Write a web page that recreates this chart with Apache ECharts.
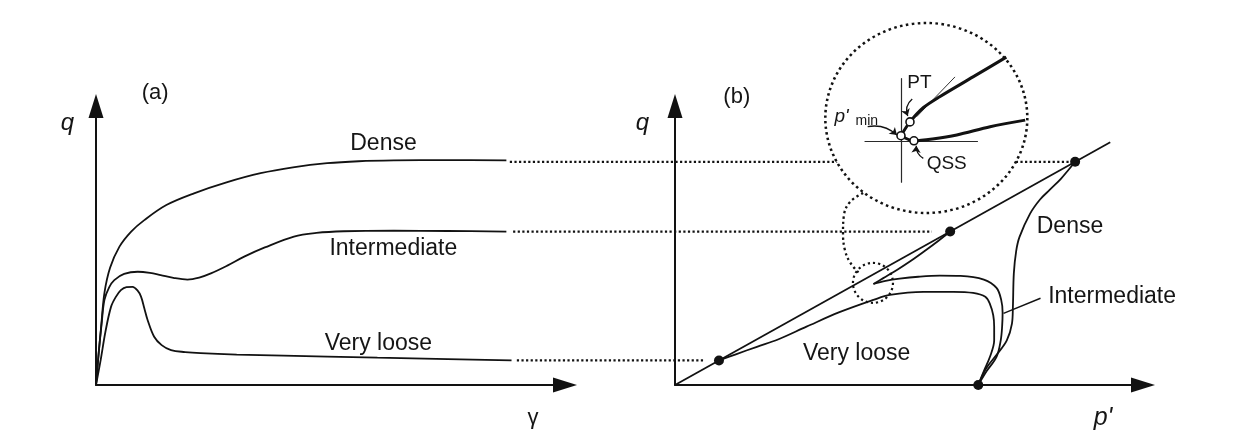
<!DOCTYPE html>
<html>
<head>
<meta charset="utf-8">
<title>Undrained response of sand: stress–strain and stress paths</title>
<script src="https://cdn.jsdelivr.net/npm/echarts@6.0.0/dist/echarts.min.js"></script>
<style>
  html, body { margin: 0; padding: 0; background: #ffffff; }
  #chart { width: 1239px; height: 438px; }
</style>
</head>
<body>
<div id="chart"></div>
<script>
// ---------------------------------------------------------------
// Data
// ---------------------------------------------------------------
const densityStates = ['Dense', 'Intermediate', 'Very loose'];

// (a) deviator stress q against shear strain γ  (pairs: [γ, q])
const qGammaDense = [[0,0],[0.5,10],[1.1,21],[1.8,33],[3,42],[5,49.6],[7.5,55],[10.3,59.1],[15,64.5],[20.9,68.7],[28,72.7],[35.1,75.9],[42,78],[49.3,79.5],[56,80.2],[63.5,80.5],[75,80.6],[87.5,80.5]];
const qGammaIntermediate = [[0,0],[0.6,12],[1.2,22],[1.8,30.5],[2.8,35],[3.9,37.6],[6,39.8],[8.9,40.6],[11.5,40.2],[13.8,39.4],[16.5,38.4],[19.5,37.8],[22,38.5],[24.5,40],[28,42.8],[31.6,46],[36,49.3],[42.2,53.2],[47,54.5],[52.8,55.1],[63.5,55.3],[75,55.2],[87.5,55]];
const qGammaVeryLoose = [[0,0],[1,9],[2,19],[3.2,28],[4.2,31.5],[5.3,34],[6.5,35.1],[7.8,35.2],[8.8,34],[9.6,31.7],[10.3,27.5],[11,23.3],[12.4,17.3],[14,14.3],[16,12.5],[19,11.8],[22.3,11.4],[30,10.9],[40,10.5],[49.3,10.2],[60,9.8],[75,9.3],[88.6,8.8]];

// (b) effective stress paths q against p'  (pairs: [p', q])
const stressPathDense = [[64.8,0],[66.5,6],[68.8,11],[70.9,16],[72,22],[72.2,28],[72.4,40],[72.9,48],[73.6,53],[75.9,61.5],[78,66.5],[80.1,70],[82.5,74],[85.5,80]];
const stressPathIntermediateIn = [[64.8,0],[66.6,5],[68.7,10.1],[69.6,16],[69.9,21],[70,26],[69.7,30.5],[68.7,34.8],[66,37.8],[61,39.1],[56.6,39.2],[52,38.8],[48,38.1],[45,37.3],[42.4,36.2]];
const stressPathIntermediateOut = [[42.4,36.2],[44.5,38.3],[47.5,41.3],[50.5,44.6],[53.5,48.2],[56.3,51.7],[58.8,55]];
const stressPathVeryLoose = [[64.8,0],[66,5],[67.3,10.1],[68.2,16],[68.2,20.9],[68,25],[67.3,29],[66.3,31.6],[63.7,33],[59.5,33.4],[53.1,33.4],[45.9,32.3],[42.4,30.5],[35,26],[28.1,20.9],[22,16.3],[17.5,13.7],[13,11],[9.4,8.8]];
const criticalStateLine = [[0,0],[93,87]];
const steadyStatePoints = [[85.5,80],[58.8,55],[9.4,8.8]];
const initialState = [[64.8,0]];

// dotted links from the strain curves' plateaus to the steady states
// (drawn on the p' scale carried leftwards under panel (a))
const plateauLinkDense = [[-35.3,80],[85.5,80]];
const plateauLinkIntermediate = [[-34.6,55],[54.9,55]];
const plateauLinkVeryLoose = [[-33.8,8.8],[6.4,8.8]];
const linkScaleMin = -37.4;

// the zoomed region and its call-out
const loopTip = [[42.3,36.6]];
const calloutCentre = [[53.7,95.7]];
const calloutLink = [[40.2,68.8],[37.4,65.6],[36.1,60.9],[35.9,54.5],[36.3,48.4],[37.4,44],[39.2,40.3]];
const intermediatePointer = [[70.2,25.7],[78.1,31.1]];

// call-out detail, in local units centred on the p'min crossing
const detailExtentX = [-8.44, 14.11];
const detailExtentY = [-7.92, 13.19];
const detailCrossX = [-4, 8.5];
const detailCrossY = [-4.5, 7];
const detailUpper = [[0,0.67],[1.0,2.2],[2.5,3.8],[4.3,5],[8,7.2],[11.7,9.4]];
const detailLower = [[0,0.67],[1.44,0.1],[3.5,0.3],[6.2,0.75],[9.9,1.67],[13.8,2.4]];
const detailTangent = [[1.74,2.78],[6,7.2]];
const detailMarkers = [[0,0.67],[1.0,2.2],[1.44,0.1]];   // p'min, PT, QSS
const detailArrows = [
  [[1.25,4.75],[0.75,2.85], -0.35],
  [[-3.7,1.67],[-0.45,0.74], 0.25],
  [[2.48,-1.85],[1.7,-0.45], 0.3]
];

// annotation positions
const labelsA = [[61.3,86.6],[63.4,49],[60.2,14.9]];
const labelsB = [[84.4,56.7],[93.4,31.5],[38.8,11.4]];
const panelTags = [['(a)',12.6,104.7],['(b)',13.2,103.2]];
const detailLabels = [['PT',2.04,6.5],['QSS',5.08,-2.48]];

// ---------------------------------------------------------------
// Styling helpers
// ---------------------------------------------------------------
const INK = '#121212';
const TEXT = '#151515';
const FONT = '"Liberation Sans", Arial, Helvetica, sans-serif';

function mainAxis(gridIndex, extra) {
  return Object.assign({
    type: 'value', gridIndex, min: 0, max: 100,
    axisLine: { show: true, onZero: false, symbol: ['none', 'triangle'], symbolSize: [15, 24],
                lineStyle: { color: INK, width: 2 } },
    axisTick: { show: false }, axisLabel: { show: false }, splitLine: { show: false }
  }, extra);
}

function hiddenAxis(gridIndex, range) {
  return { type: 'value', gridIndex, min: range[0], max: range[1], show: false,
           axisLine: { show: false }, axisTick: { show: false }, axisLabel: { show: false }, splitLine: { show: false } };
}

function curve(data, idx, extra) {
  return Object.assign({
    type: 'line', data, xAxisIndex: idx, yAxisIndex: idx,
    symbol: 'none', smooth: 0.35, silent: true, animation: false,
    lineStyle: { color: INK, width: 1.8 }, z: 2
  }, extra || {});
}

function dotted(data, idx, extra) {
  return Object.assign(curve(data, idx), {
    smooth: false, clip: false, z: 1,
    lineStyle: { color: INK, width: 2.2, type: [2.2, 2.4] }
  }, extra || {});
}

function texts(items, idx, fontSize, extra) {
  return {
    type: 'scatter', xAxisIndex: idx, yAxisIndex: idx, silent: true, animation: false,
    clip: false, z: 8, symbolSize: 1, itemStyle: { color: 'rgba(0,0,0,0)', opacity: 1 },
    data: items.map(d => ({ name: d[0], value: [d[1], d[2]] })),
    label: Object.assign({ show: true, position: 'inside', formatter: '{b}', color: TEXT,
                           fontSize, fontFamily: FONT }, extra || {})
  };
}

const crossAxis = (range) => ({
  type: 'value', gridIndex: 2, min: range[0], max: range[1], z: 6,
  axisLine: { show: true, onZero: true, lineStyle: { color: '#2a2a2a', width: 1.2 } },
  axisTick: { show: false }, axisLabel: { show: false }, splitLine: { show: false }
});

// ---------------------------------------------------------------
// Chart
// ---------------------------------------------------------------
const chart = echarts.init(document.getElementById('chart'));

chart.setOption({
  animation: false,
  backgroundColor: '#ffffff',
  grid: [
    { left: 96, top: 106, width: 469, height: 279 },       // (a)
    { left: 675, top: 106, width: 468, height: 279 },      // (b)
    { left: 865, top: 78.7, width: 112.5, height: 103.5 }, // call-out cross
    { left: 500, top: 106, width: 643, height: 279 },      // links between panels
    { left: 825, top: 23, width: 203, height: 190 }        // call-out detail
  ],
  xAxis: [
    mainAxis(0, { name: 'γ', nameLocation: 'end', nameGap: -32,
      nameTextStyle: { fontSize: 22, fontFamily: FONT, color: TEXT, align: 'center', verticalAlign: 'top', padding: [22, 0, 0, 0] } }),
    mainAxis(1, { name: "p'", nameLocation: 'end', nameGap: -40,
      nameTextStyle: { fontSize: 25, fontStyle: 'italic', fontFamily: FONT, color: TEXT, align: 'center', verticalAlign: 'top', padding: [21, 0, 0, 0] } }),
    crossAxis(detailCrossX),
    hiddenAxis(3, [linkScaleMin, 100]),
    hiddenAxis(4, detailExtentX)
  ],
  yAxis: [
    mainAxis(0, { name: 'q', nameLocation: 'end', nameGap: -17,
      nameTextStyle: { fontSize: 24, fontStyle: 'italic', fontFamily: FONT, color: TEXT, align: 'right', verticalAlign: 'middle', padding: [0, 22, 0, 0] } }),
    mainAxis(1, { name: 'q', nameLocation: 'end', nameGap: -17,
      nameTextStyle: { fontSize: 24, fontStyle: 'italic', fontFamily: FONT, color: TEXT, align: 'right', verticalAlign: 'middle', padding: [0, 26, 0, 0] } }),
    crossAxis(detailCrossY),
    hiddenAxis(3, [0, 100]),
    hiddenAxis(4, detailExtentY)
  ],
  series: [
    // (a) q–γ
    curve(qGammaDense, 0),
    curve(qGammaIntermediate, 0),
    curve(qGammaVeryLoose, 0),
    texts(densityStates.map((n, i) => [n, labelsA[i][0], labelsA[i][1]]), 0, 23),
    texts([panelTags[0]], 0, 22),

    // dotted links between the panels
    dotted(plateauLinkDense, 3),
    dotted(plateauLinkIntermediate, 3),
    dotted(plateauLinkVeryLoose, 3),

    // (b) stress paths
    curve(criticalStateLine, 1, { smooth: false }),
    curve(stressPathDense, 1),
    curve(stressPathIntermediateIn, 1),
    curve(stressPathIntermediateOut, 1),
    curve(stressPathVeryLoose, 1),
    curve(intermediatePointer, 1, { smooth: false, lineStyle: { color: INK, width: 1.4 } }),
    {
      type: 'scatter', xAxisIndex: 1, yAxisIndex: 1, silent: true, z: 4,
      symbol: 'circle', symbolSize: 10, itemStyle: { color: INK, opacity: 1 },
      data: steadyStatePoints.concat(initialState)
    },
    {
      type: 'scatter', xAxisIndex: 1, yAxisIndex: 1, silent: true, z: 2,
      symbol: 'circle', symbolSize: 40,
      itemStyle: { color: 'rgba(0,0,0,0)', opacity: 1, borderColor: INK, borderWidth: 2.2, borderType: [2.2, 3] },
      data: loopTip
    },
    dotted(calloutLink, 1, { smooth: 0.4, lineStyle: { color: INK, width: 2.3, type: [2.3, 3] } }),
    {
      type: 'scatter', xAxisIndex: 1, yAxisIndex: 1, silent: true, z: 3, clip: false,
      symbol: 'circle', symbolSize: [202, 190],
      itemStyle: { color: '#ffffff', opacity: 1, borderColor: INK, borderWidth: 2.5, borderType: [2.5, 3.3] },
      data: calloutCentre
    },
    texts(densityStates.map((n, i) => [n, labelsB[i][0], labelsB[i][1]]), 1, 23),
    texts([panelTags[1]], 1, 22),

    // call-out detail
    curve(detailTangent, 4, { smooth: false, z: 7, lineStyle: { color: '#333', width: 1 } }),
    curve(detailUpper, 4, { smooth: 0.3, z: 7, lineStyle: { color: INK, width: 3 } }),
    curve(detailLower, 4, { smooth: 0.3, z: 7, lineStyle: { color: INK, width: 3 } }),
    {
      type: 'scatter', xAxisIndex: 4, yAxisIndex: 4, silent: true, z: 9,
      symbol: 'circle', symbolSize: 8,
      itemStyle: { color: '#ffffff', opacity: 1, borderColor: INK, borderWidth: 1.6 },
      data: detailMarkers
    },
    {
      type: 'lines', coordinateSystem: 'cartesian2d', xAxisIndex: 4, yAxisIndex: 4,
      silent: true, z: 9, symbol: ['none', 'arrow'], symbolSize: 7,
      lineStyle: { color: INK, width: 1.3, opacity: 1 },
      data: detailArrows.map(a => ({ coords: [a[0], a[1]], lineStyle: { curveness: a[2] } }))
    },
    texts(detailLabels, 4, 19),
    texts([["p'", -6.6, 2.8]], 4, 19, { fontStyle: 'italic' }),
    texts([['min', -3.8, 2.3]], 4, 14)
  ]
});
</script>
</body>
</html>
